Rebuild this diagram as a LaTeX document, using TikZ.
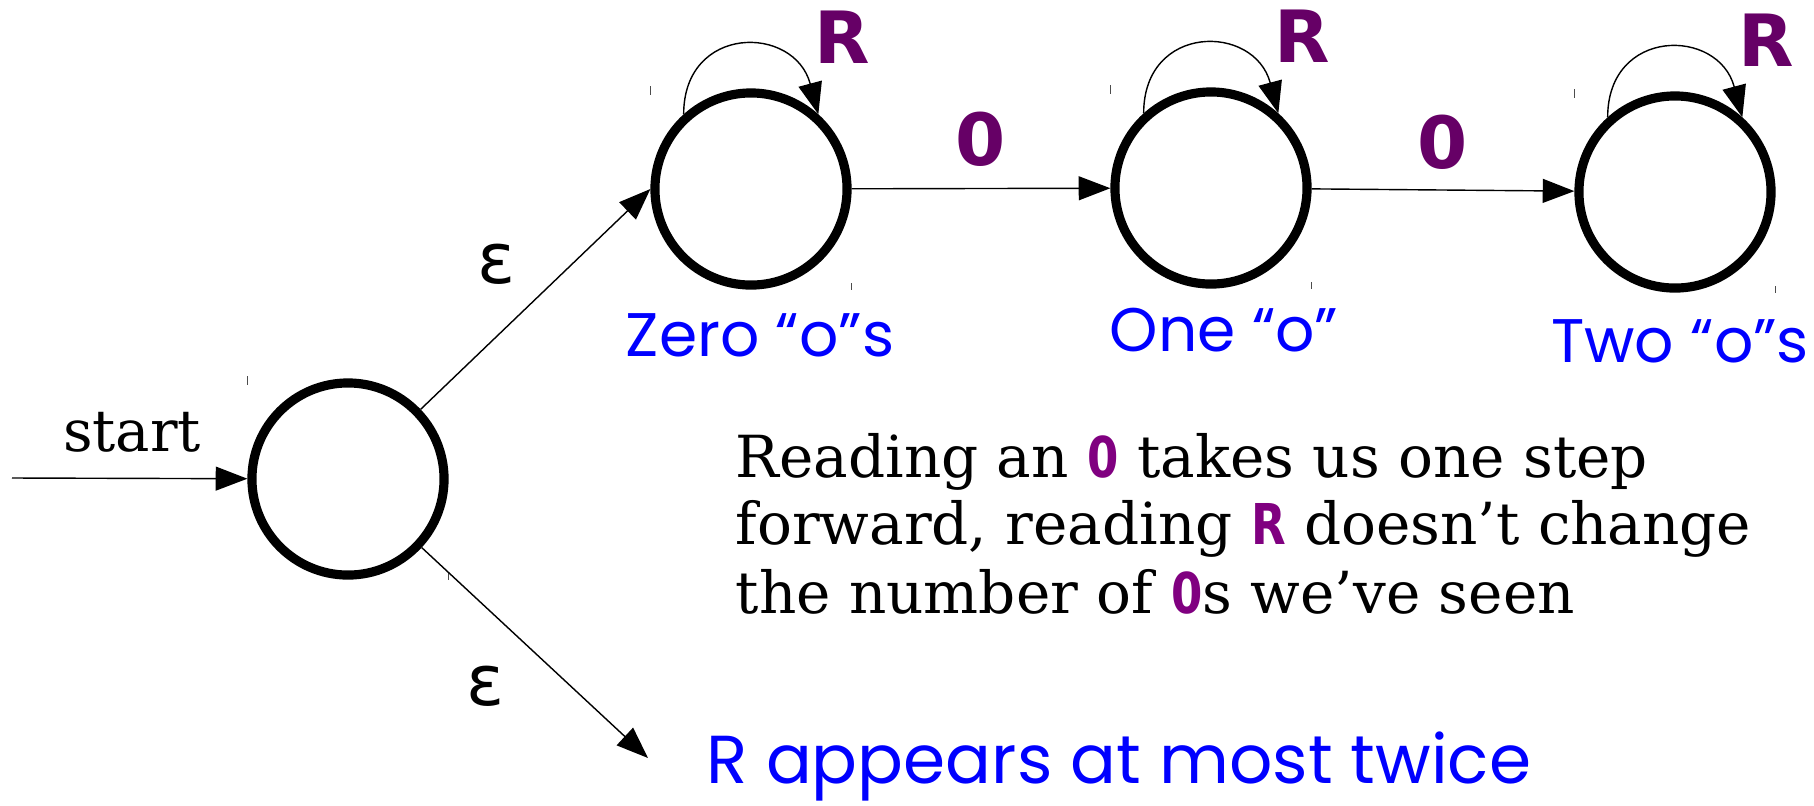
\documentclass[tikz,border=0pt]{standalone}
\usepackage{fontspec}
\setmainfont{DejaVu Serif}
\newfontfamily\boldsans{DejaVu Sans}
\newfontfamily\narrowsans{DejaVu Sans}[FakeStretch=0.8]
\newfontfamily\handfont{Poppins}
\newfontfamily\epsfont{DejaVu Sans}
\usetikzlibrary{arrows.meta,calc}

\definecolor{loopviolet}{RGB}{102,0,102}
\definecolor{textviolet}{RGB}{128,0,128}
\newcommand{\sym}[1]{{\fontsize{16}{19}\narrowsans\bfseries\color{textviolet}#1}}

\tikzset{
  statenode/.style={circle, draw, line width=2.6pt, minimum size=1.92cm, inner sep=0pt},
  trans/.style={line width=0.4pt, -{Triangle[length=9pt,width=6.8pt]}},
  symlabel/.style={font=\fontsize{20.5}{20.5}\boldsans\bfseries, text=loopviolet, inner sep=0pt},
  epslabel/.style={font=\fontsize{20}{20}\epsfont},
  namelabel/.style={font=\fontsize{17.5}{17.5}\handfont, text=blue},
  bodytext/.style={font=\fontsize{16.5}{19}\selectfont, anchor=base west, inner sep=0pt},
  tickmark/.style={line width=0.3pt, black!70}
}

\begin{document}
\begin{tikzpicture}[x=0.01cm, y=-0.01cm]
    \useasboundingbox (0,0) rectangle (1814,805);

    % States
    \node[statenode] (start) at (348,479) {};
    \node[statenode] (zero) at (751,189) {};
    \node[statenode] (one) at (1211,188) {};
    \node[statenode] (two) at (1675,192) {};

    % Corner marks
    \foreach \s in {start,zero,one,two} {
        \draw[tickmark] (\s.west |- \s.north) ++(0,-2) -- ++(0,9);
        \draw[tickmark] (\s.east |- \s.south) -- ++(0,-7);
    }

    % Start arrow
    \coordinate (entry) at (12,478);
    \node[font=\fontsize{16.4}{19}\selectfont] (startlabel) at (132,432) {start};
    \draw[trans] (entry) -- (start);

    % Epsilon moves
    \coordinate (exit) at (648,758);
    \draw[trans] (start) -- (zero.west);
    \draw[trans] (start) -- (exit);
    \node[epslabel] (eps1) at (497,264) {ε};
    \node[epslabel] (eps2) at (486,686) {ε};

    % Reading 0
    \draw[trans] (zero) -- node[symlabel, above=6pt] (zero-one) {0} (one);
    \draw[trans] (one) -- node[symlabel, above=5.5pt] (one-two) {0} (two);

    % Reading R
    \foreach \s in {zero,one,two} {
        \draw[trans] (\s.132) .. controls +(0,-90) and +(-24,-90) .. (\s.48);
        \node[symlabel] (\s-r) at ($(\s)+(91,-152)$) {R};
    }

    % State names
    \node[namelabel] (zero-name) at (760,335) {Zero “o”s};
    \node[namelabel] (one-name) at (1224,330) {One “o”};
    \node[namelabel] (two-name) at (1680,341) {Two “o”s};
    \node[namelabel, font=\fontsize{19.3}{19.3}\handfont, anchor=base west, inner sep=0pt] (twice) at (706,783) {R appears at most twice};

    % Explanation
    \node[bodytext] (line1) at (735,477) {Reading an \sym{0} takes us one step};
    \node[bodytext] (line2) at (735,544) {forward, reading \sym{R} doesn’t change};
    \node[bodytext] (line3) at (735,613) {the number of \sym{0}s we’ve seen};
\end{tikzpicture}
\end{document}
